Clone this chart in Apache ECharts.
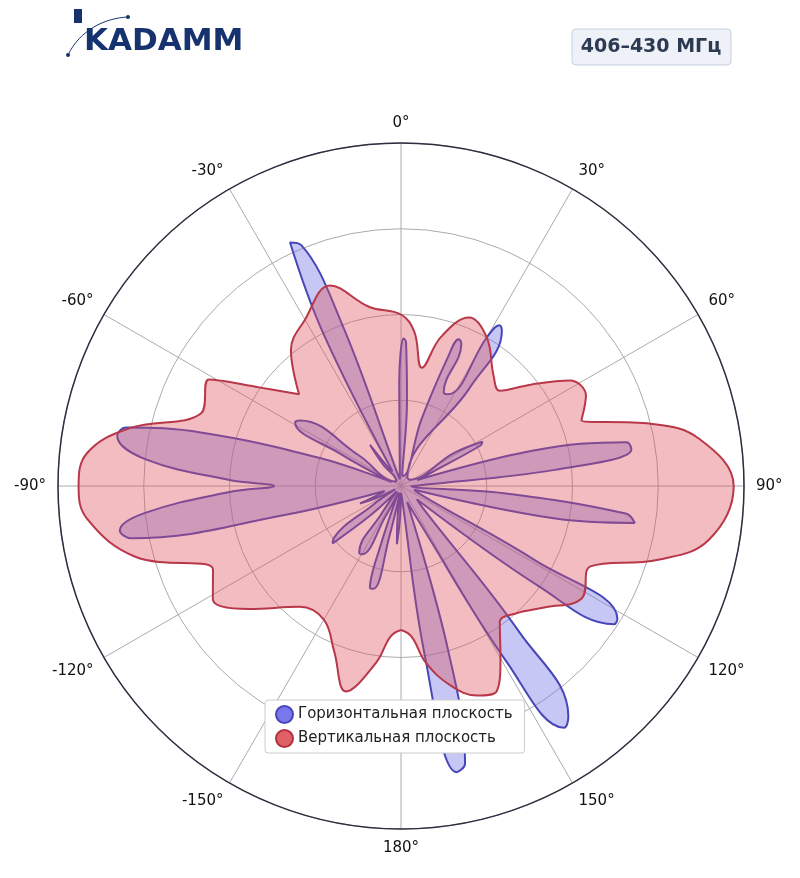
<!DOCTYPE html>
<html>
<head>
<meta charset="UTF-8">
<script src="https://cdn.jsdelivr.net/npm/echarts@6/dist/echarts.min.js"></script>
<style>html,body{margin:0;padding:0;background:#fff}#main{width:800px;height:878px}</style>
</head>
<body>
<div id="main"></div>
<script>
// angle (deg, clockwise from top), normalized level
var horizAngles = [-180,-178,-176,-174,-172,-167,-165,-163,-161,-158,-153,-150,-148,-145,-141,-134,-130,-128,-124,-120,-116,-113,-110,-107,-104,-101,-99,-96,-92,-90,-88,-84,-80,-78,-75,-71,-67,-62,-59,-57,-54,-50,-44,-40,-37,-34,-30,-27,-24.5,-22.5,-20,-16,-10,-4,-1,1,2,4,7,12,17,20,21.5,23,24.5,27,30,31.5,33,35,38,44,52,58,61.5,63,66,70,75,79,81,84,88,91,94,97,99,102,106,111,116,119,121.5,123,126,130,136,141,144,146,149,154,159,164,167,169,172,176,180];
var horizValues = [0.02,0.1,0.17,0.1,0.02,0.15,0.31,0.31,0.18,0.02,0.1,0.23,0.23,0.1,0.02,0.12,0.26,0.25,0.1,0.02,0.08,0.13,0.06,0.05,0.35,0.8,0.83,0.75,0.5,0.37,0.5,0.75,0.84,0.82,0.6,0.25,0.03,0.2,0.36,0.35,0.15,0.02,0.02,0.08,0.15,0.06,0.05,0.5,0.78,0.76,0.5,0.04,0.02,0.05,0.3,0.43,0.42,0.25,0.03,0.03,0.2,0.4,0.46,0.45,0.3,0.3,0.5,0.55,0.54,0.35,0.03,0.03,0.03,0.18,0.27,0.26,0.1,0.05,0.4,0.67,0.68,0.45,0.05,0.03,0.3,0.66,0.69,0.45,0.04,0.05,0.1,0.45,0.74,0.74,0.5,0.06,0.1,0.55,0.83,0.85,0.6,0.1,0.05,0.5,0.83,0.85,0.5,0.03,0.02];
var vertAngles = [-180,-176,-172,-165,-158,-150,-140,-129,-121,-114,-105,-96,-90,-84,-78,-70,-61,-55,-48,-39,-30,-19.5,-10,0,5,10,15,22,30,40,46,52,58,64,70,76,81,90,100,106,113,122,130,138,144,150,155,160,166,172,176,180];
var vertValues = [0.42,0.44,0.52,0.62,0.52,0.45,0.46,0.57,0.64,0.6,0.8,0.92,0.94,0.92,0.81,0.62,0.64,0.5,0.4,0.51,0.56,0.62,0.53,0.5,0.45,0.35,0.45,0.53,0.5,0.42,0.4,0.48,0.58,0.6,0.56,0.75,0.88,0.97,0.91,0.78,0.6,0.62,0.55,0.5,0.49,0.58,0.66,0.65,0.6,0.52,0.44,0.42];

function pairs(a, v){ return a.map(function(x,i){ return [v[i], x]; }); }

var chart = echarts.init(document.getElementById('main'));
chart.setOption({
  animation: false,
  textStyle: { fontFamily: 'DejaVu Sans' },
  graphic: [
    { type: 'text', left: 84, top: 26, style: { text: 'KADAMM', fontSize: 31, fontWeight: 'bold', fontFamily: 'DejaVu Sans', fill: '#17336f' } },
    { type: 'rect', shape: { x: 74, y: 9, width: 8, height: 14 }, style: { fill: '#17336f' } },
    { type: 'bezierCurve', shape: { x1: 68, y1: 55, x2: 128, y2: 17, cpx1: 80, cpy1: 30, cpx2: 105, cpy2: 18 }, style: { stroke: '#17336f', lineWidth: 1, fill: null } },
    { type: 'circle', shape: { cx: 128, cy: 17, r: 2 }, style: { fill: '#17336f' } },
    { type: 'circle', shape: { cx: 68, cy: 55, r: 2 }, style: { fill: '#17336f' } },
    { type: 'rect', shape: { x: 572, y: 29, width: 159, height: 36, r: 4 }, style: { fill: '#eef2f8', stroke: '#c5cfe0', lineWidth: 1 } },
    { type: 'text', x: 651, y: 47, style: { text: '406–430 МГц', fontSize: 19, fontWeight: 'bold', fill: '#2c3a52', align: 'center', verticalAlign: 'middle', fontFamily: 'DejaVu Sans' } }
  ],
  legend: {
    orient: 'vertical', left: 265, top: 700, icon: 'circle', itemWidth: 17, itemHeight: 17, itemGap: 5,
    padding: [5, 12, 5, 10], borderColor: '#cccccc', borderWidth: 1, borderRadius: 3, backgroundColor: '#fff',
    textStyle: { fontSize: 15, color: '#222' },
    data: ['Горизонтальная плоскость', 'Вертикальная плоскость']
  },
  polar: { center: [401, 486], radius: 343 },
  angleAxis: {
    type: 'value', min: -180, max: 180, interval: 30, startAngle: -90, clockwise: true,
    axisLine: { lineStyle: { color: '#2e2e40', width: 1.5 } },
    axisTick: { show: false },
    axisLabel: { fontSize: 15, color: '#111', margin: 12, formatter: function(v){ if (v === 180) return ''; if (v === -180) return '180°'; return v + '°'; } },
    splitLine: { show: true, lineStyle: { color: '#aaaaaa', width: 1 } }
  },
  radiusAxis: {
    type: 'value', min: 0, max: 1, interval: 0.25,
    axisLine: { show: false }, axisTick: { show: false }, axisLabel: { show: false },
    splitLine: { lineStyle: { color: '#aaaaaa', width: 1 } }
  },
  series: [
    { name: 'Горизонтальная плоскость', type: 'line', coordinateSystem: 'polar', smooth: 0.4, symbol: 'none', z: 2,
      itemStyle: { color: '#7878ea', borderColor: '#4646b8', borderWidth: 1 },
      lineStyle: { color: '#4646b8', width: 2 }, areaStyle: { color: 'rgba(110,110,232,0.55)' },
      data: pairs(horizAngles, horizValues) },
    { name: 'Вертикальная плоскость', type: 'line', coordinateSystem: 'polar', smooth: 0.4, symbol: 'none', z: 3,
      itemStyle: { color: '#e06068', borderColor: '#b03040', borderWidth: 1 },
      lineStyle: { color: '#b8384a', width: 2 }, areaStyle: { color: 'rgba(222,80,92,0.55)' },
      data: pairs(vertAngles, vertValues) }
  ]
});
</script>
</body>
</html>
